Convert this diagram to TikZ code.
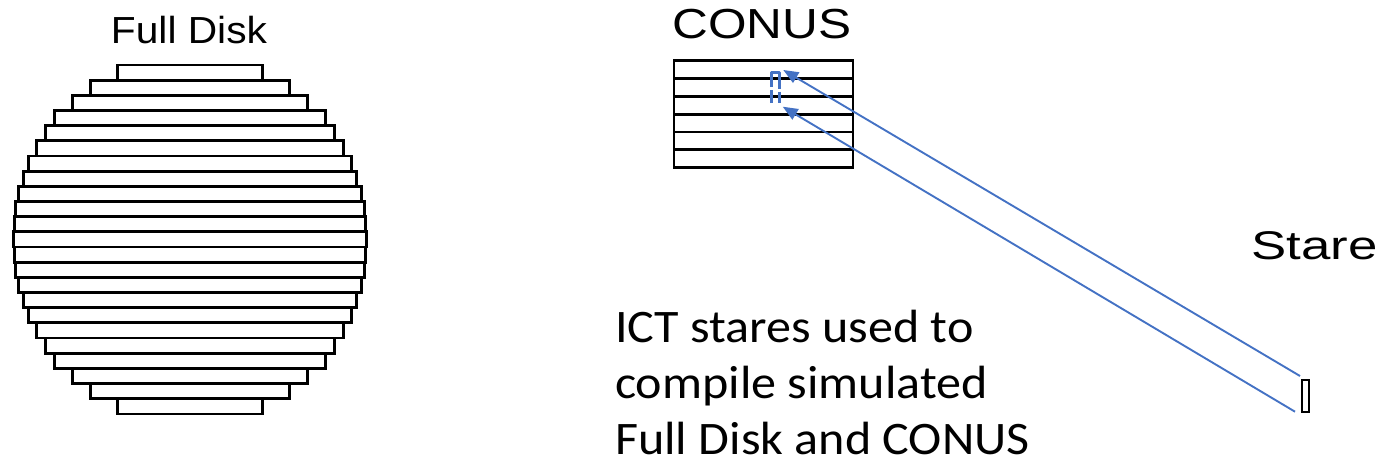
\documentclass[tikz,border=0pt]{standalone}
\usepackage{fontspec}
\usepackage{graphicx}
\usepackage{tikz}
\usetikzlibrary{positioning,calc,arrows.meta}
\newfontfamily\arialfont{Liberation Sans}
\newfontfamily\calibrifont{Carlito}
\definecolor{stareblue}{RGB}{68,114,196}
\newcommand{\wide}[2]{\scalebox{#1}[1]{#2}}
\tikzset{
  strip/.style={draw=black,line width=2.8pt,line join=miter},
  starebox/.style={rectangle,draw=black,line width=2.6pt,inner sep=0pt,
    minimum width=7pt,minimum height=32pt},
  footprint/.style={draw=stareblue,line width=3pt,line join=round,
    dash pattern=on 13pt off 3pt on 39pt off 3pt on 13pt off 10pt},
  ray/.style={draw=stareblue,line width=1.9pt,
    -{Triangle[length=15pt,width=12pt]}},
  title/.style={inner sep=0pt,anchor=base,text=black},
  note/.style={inner sep=0pt,anchor=north west,align=left,
    font=\calibrifont\fontsize{46.6}{56}\selectfont}
}
\begin{document}
\begin{tikzpicture}[x=1pt,y=-1pt]
  \useasboundingbox (0,0) rectangle (1380,464);

  % full disk
  \foreach \hw [count=\i from 0] in {72.5,99.7,117.7,135.8,144.7,153.7,161.5,166.7,171.7,174.3,175.8,176.7,
                                      175.8,174.3,171.7,166.7,161.5,153.7,144.7,135.8,117.7,99.7,72.5}
    \draw[strip] (190-\hw,65+\i*15.17) rectangle (190+\hw,65+\i*15.17+15.17);
  \node[title,font=\arialfont\fontsize{37.7}{44}\selectfont] (fdlabel) at (189,43) {\wide{1.08}{Full Disk}};

  % conus
  \foreach \i in {0,...,5}
    \draw[strip] (674,60.7+\i*17.83) rectangle (853,60.7+\i*17.83+17.83);
  \node[title,font=\arialfont\fontsize{42}{48}\selectfont] (conuslabel) at (761.7,38.3) {\wide{1.18}{CONUS}};

  % stare
  \node[starebox] (stare) at (1305.5,396) {};
  \node[title,font=\arialfont\fontsize{40}{46}\selectfont] (starelabel) at (1314.5,259.3) {\wide{1.32}{Stare}};

  \coordinate (fp) at (771.3,103);
  \draw[footprint] (fp) -- ++(0,-30.7) -- ++(8,0) -- ++(0,30.7);

  \coordinate (s1) at (1300,376);
  \coordinate (s2) at (1295,411.7);
  \coordinate (f1) at (783.3,70);
  \coordinate (f2) at (782.7,106.7);
  \path (s1) edge[ray] (f1)
        (s2) edge[ray] (f2);

  \node[note] (ictnote) at (615,309.5) {\wide{1.075}{ICT stares used to}\\\wide{1.075}{compile simulated}\\\wide{1.075}{Full Disk and CONUS}};
\end{tikzpicture}
\end{document}
